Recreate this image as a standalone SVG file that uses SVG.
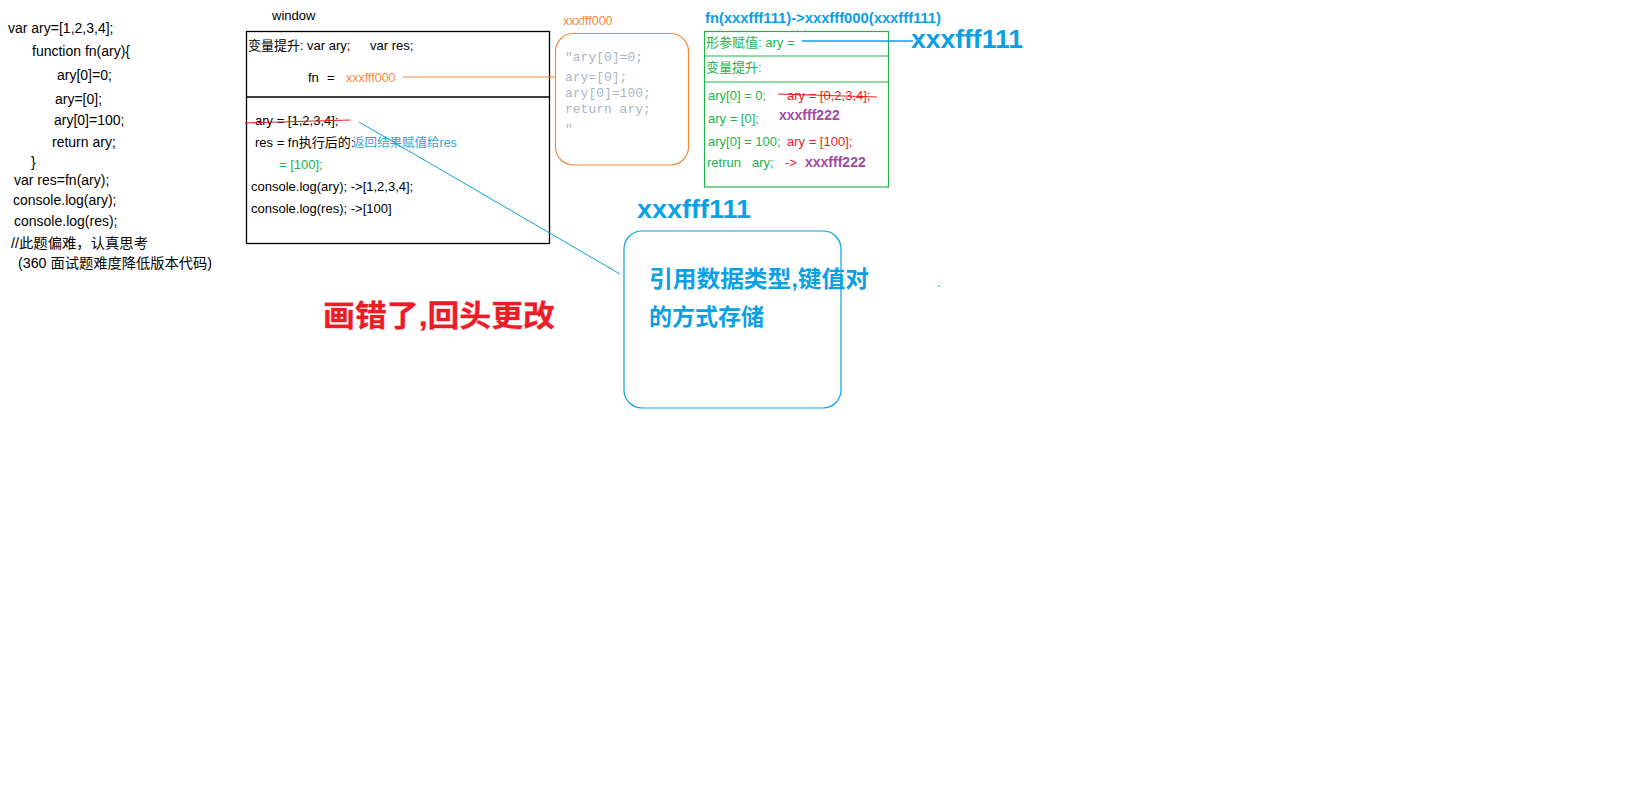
<svg xmlns="http://www.w3.org/2000/svg" width="1638" height="786" viewBox="0 0 1638 786">
<style>
text{font-family:"Liberation Sans","Noto Sans CJK SC",sans-serif;}
.c14{font-size:14px;fill:#000;}
.c12{font-size:13px;fill:#000;}
.g{font-size:13px;fill:#22b14c;}
.r{font-size:13px;fill:#ed1c24;}
.p{font-size:14px;font-weight:bold;fill:#a349a4;}
.o{font-size:12.5px;fill:#f58a3c;}
.mono{font-family:"Liberation Mono","DejaVu Sans Mono",monospace;font-size:13px;fill:#aab6c8;}
.bb{font-weight:bold;fill:#0aa0e6;}
.box{fill:none;stroke:#000;stroke-width:1.3;}
</style>
<rect width="1638" height="786" fill="#fff"/>

<g id="code">
<text class="c14" x="8" y="33">var ary=[1,2,3,4];</text>
<text class="c14" x="32" y="56">function fn(ary){</text>
<text class="c14" x="57" y="80">ary[0]=0;</text>
<text class="c14" x="55" y="104">ary=[0];</text>
<text class="c14" x="54" y="125">ary[0]=100;</text>
<text class="c14" x="52" y="147">return ary;</text>
<text class="c14" x="31" y="167">}</text>
<text class="c14" x="14" y="185">var res=fn(ary);</text>
<text class="c14" x="13" y="205">console.log(ary);</text>
<text class="c14" x="14" y="226">console.log(res);</text>
<text class="c14" x="11" y="248" font-size="13" textLength="137" lengthAdjust="spacingAndGlyphs">//此题偏难，认真思考</text>
<text class="c14" x="18" y="268" font-size="13" textLength="194" lengthAdjust="spacingAndGlyphs">(360  面试题难度降低版本代码)</text>
</g>

<g id="window">
<text x="272" y="20" font-size="13" fill="#000">window</text>
<rect class="box" x="246.5" y="31.5" width="303" height="212"/>
<line x1="246.5" y1="97" x2="549.5" y2="97" stroke="#000" stroke-width="1.3"/>
<text class="c12" x="248" y="50" font-size="12">变量提升:</text>
<text class="c12" x="307" y="50">var ary;</text>
<text class="c12" x="370" y="50">var res;</text>
<text class="c12" x="308" y="82">fn</text>
<text class="c12" x="327" y="82">=</text>
<text class="o" x="346" y="82">xxxfff000</text>
<text class="c12" x="255" y="125">ary = [1,2,3,4];</text>
<text class="c12" x="255" y="147">res = fn执行后的:</text>
<text x="352" y="147" font-size="12.5" fill="#29a8e0">返回结果赋值给res</text>
<text class="g" x="279" y="169">= [100];</text>
<text class="c12" x="251" y="191">console.log(ary); -&gt;[1,2,3,4];</text>
<text class="c12" x="251" y="213">console.log(res); -&gt;[100]</text>
</g>

<g id="heap-fn">
<text class="o" x="563" y="25">xxxfff000</text>
<rect x="555.5" y="33.5" width="133" height="131.5" rx="18" fill="none" stroke="#f58a3c" stroke-width="1.2"/>
<text class="mono" x="565" y="61">"ary[0]=0;</text>
<text class="mono" x="565" y="81">ary=[0];</text>
<text class="mono" x="565" y="97">ary[0]=100;</text>
<text class="mono" x="565" y="113">return ary;</text>
<text class="mono" x="565" y="133">"</text>
</g>

<g id="fn-exec">
<text class="bb" x="705" y="23" font-size="14" textLength="236" lengthAdjust="spacingAndGlyphs">fn(xxxfff111)-&gt;xxxfff000(xxxfff111)</text>
<rect x="704.5" y="31.5" width="184" height="155.5" fill="none" stroke="#22b14c" stroke-width="1.2"/>
<line x1="704.5" y1="56" x2="888.5" y2="56" stroke="#22b14c" stroke-width="1.2"/>
<line x1="704.5" y1="82" x2="888.5" y2="82" stroke="#22b14c" stroke-width="1.2"/>
<text class="g" x="706" y="47" font-size="12.5">形参赋值: ary =</text>
<text class="g" x="706" y="72" font-size="12.5">变量提升:</text>
<text class="g" x="708" y="100">ary[0] = 0;</text>
<text class="r" x="787" y="100">ary = [0,2,3,4];</text>
<text class="g" x="708" y="123">ary = [0];</text>
<text class="p" x="779" y="120">xxxfff222</text>
<text class="g" x="708" y="146">ary[0] = 100;</text>
<text class="r" x="787" y="146">ary = [100];</text>
<text class="g" x="707" y="167">retrun</text>
<text class="g" x="752" y="167">ary;</text>
<text class="r" x="785" y="167">-&gt;</text>
<text class="p" x="805" y="167">xxxfff222</text>
<text class="bb" x="911" y="48" font-size="26" textLength="112" lengthAdjust="spacingAndGlyphs">xxxfff111</text>
</g>

<g id="heap-ary">
<text class="bb" x="637" y="218" font-size="25" textLength="114" lengthAdjust="spacingAndGlyphs">xxxfff111</text>
<rect x="624" y="231" width="217" height="177" rx="18" fill="none" stroke="#0aa0e6" stroke-width="1.2"/>
<text class="bb" x="649" y="287" font-size="23" textLength="220" lengthAdjust="spacingAndGlyphs">引用数据类型,键值对</text>
<text class="bb" x="649" y="325" font-size="23">的方式存储</text>
</g>

<g id="note">
<text x="323" y="326" font-size="30" font-weight="bold" fill="#ed1c24" stroke="#f7b3c2" stroke-width="0.8" paint-order="stroke" textLength="232" lengthAdjust="spacingAndGlyphs">画错了,回头更改</text>
</g>

<g id="connectors" fill="none">
<line x1="403" y1="77" x2="556" y2="77" stroke="#f58a3c" stroke-width="1.2"/>
<line x1="245" y1="123" x2="350" y2="120" stroke="#ed1c24" stroke-width="1.2"/>
<line x1="778" y1="94" x2="877" y2="97" stroke="#ed1c24" stroke-width="1.2"/>
<line x1="359" y1="122" x2="620" y2="274" stroke="#0aa0e6" stroke-width="1"/>
<line x1="802" y1="41" x2="913" y2="41" stroke="#0aa0e6" stroke-width="1.3"/>
<line x1="938" y1="287" x2="940" y2="285" stroke="#0aa0e6" stroke-width="1"/>
<g fill="#0aa0e6" opacity="0.5">
<circle cx="720" cy="30" r="0.7"/>
<circle cx="798" cy="30" r="0.7"/>
<circle cx="805" cy="30" r="0.7"/>
</g>
</g>
</svg>
